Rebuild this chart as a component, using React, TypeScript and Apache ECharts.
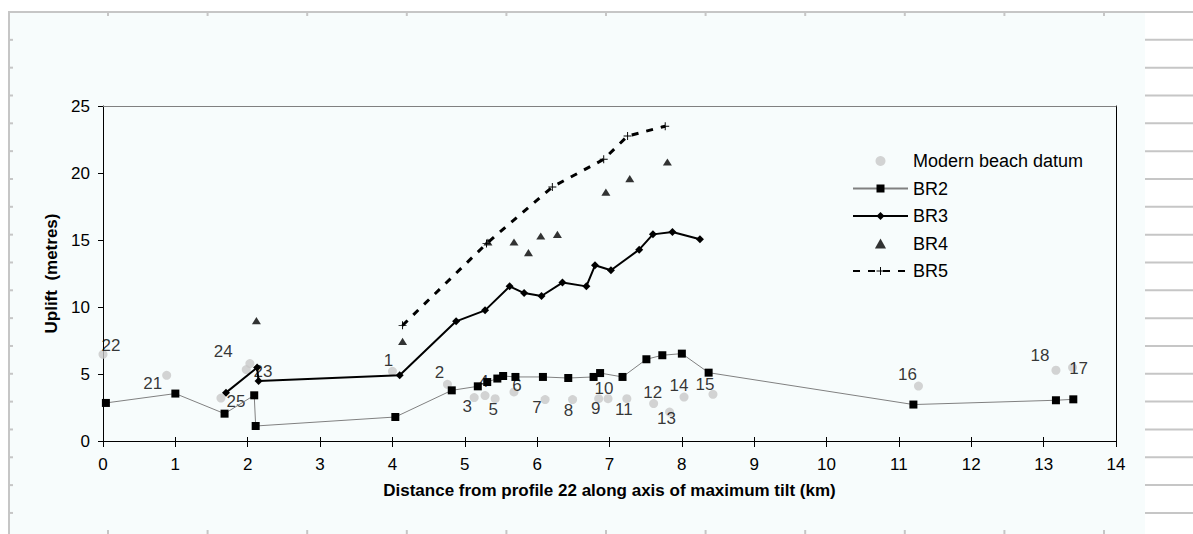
import React, { useEffect, useRef } from "react";
import * as echarts from "echarts";

// ---- Data ----
const beachX = [0.0, 0.88, 1.63, 1.98, 2.03, 4.0, 4.76, 5.13, 5.28, 5.42, 5.68, 6.11, 6.49, 6.85, 6.98, 7.24, 7.61, 7.83, 8.03, 8.43, 11.27, 13.17, 13.4];
const beachY = [6.47, 4.9, 3.2, 5.33, 5.78, 5.2, 4.23, 3.24, 3.39, 3.16, 3.66, 3.09, 3.09, 3.16, 3.16, 3.16, 2.79, 2.16, 3.28, 3.48, 4.1, 5.28, 5.48];
const beachProfile = ["22", "21", "25", "24", "23", "1", "2", "3", "4", "5", "6", "7", "8", "9", "10", "11", "12", "13", "14", "15", "16", "18", "17"];

const br2X = [0.04, 1.0, 1.68, 2.09, 2.11, 4.04, 4.82, 5.18, 5.31, 5.45, 5.53, 5.7, 6.08, 6.43, 6.78, 6.87, 7.18, 7.51, 7.73, 8.0, 8.37, 11.2, 13.17, 13.41];
const br2Y = [2.84, 3.54, 2.04, 3.41, 1.12, 1.79, 3.78, 4.08, 4.4, 4.66, 4.85, 4.78, 4.78, 4.7, 4.78, 5.07, 4.78, 6.1, 6.4, 6.52, 5.1, 2.72, 3.04, 3.11];

const br3X = [1.7, 2.13, 2.15, 4.1, 4.88, 5.28, 5.62, 5.82, 6.06, 6.35, 6.68, 6.8, 7.02, 7.41, 7.6, 7.87, 8.25];
const br3Y = [3.61, 5.48, 4.48, 4.9, 8.93, 9.75, 11.54, 11.04, 10.82, 11.82, 11.54, 13.11, 12.74, 14.28, 15.42, 15.6, 15.05];

const br4X = [2.12, 4.14, 5.32, 5.68, 5.88, 6.05, 6.28, 6.95, 7.28, 7.8];
const br4Y = [8.98, 7.44, 14.85, 14.85, 14.06, 15.3, 15.42, 18.58, 19.58, 20.82];

const br5X = [4.14, 5.3, 6.21, 6.92, 7.25, 7.77];
const br5Y = [8.63, 14.73, 18.96, 21.02, 22.76, 23.49];

const seriesNames = ["Modern beach datum", "BR2", "BR3", "BR4", "BR5"];
const xTitle = "Distance from profile 22 along axis of maximum tilt (km)";
const yTitle = "Uplift  (metres)";

// ---- Styles ----
const labelOffsets: number[][] = [
  [8, -9], [-14, 8], [15, 3], [-23, -18], [13, 8], [-4, -11], [-8, -12], [-7, 9], [-1, -14], [-2, 11],
  [3, -6], [-8, 8], [-4, 11], [-3, 10], [-4, -10], [-3, 11], [-1, -11], [-3, 6], [-5, -12], [-8, -10],
  [-11, -12], [-16, -15], [6, 1],
];
const FONT = "Liberation Sans, Arial, sans-serif";
const PLUS = "path://M4.4,0H5.6V4.4H10V5.6H5.6V10H4.4V5.6H0V4.4H4.4Z";
const TRI = "path://M5,0L10,9L0,9Z";
const GRID = { left: 103, right: 77, top: 106, bottom: 93 };

const pairs = (xs: number[], ys: number[]) => xs.map((x, i) => [x, ys[i]]);

function decorations() {
  const els: any[] = [];
  const stroke = { stroke: "#c6c6c6", lineWidth: 2 };
  els.push({ type: "line", silent: true, shape: { x1: 9, y1: 12, x2: 9, y2: 534 }, style: stroke });
  els.push({ type: "line", silent: true, shape: { x1: 8, y1: 12, x2: 1193, y2: 12 }, style: stroke });
  for (let k = 1; k <= 18; k++) {
    const y = 12 + k * 27.83;
    els.push({ type: "line", silent: true, shape: { x1: 9, y1: y, x2: 13, y2: y }, style: stroke });
    els.push({ type: "line", silent: true, shape: { x1: 1145, y1: y, x2: 1193, y2: y }, style: stroke });
  }
  for (let k = 0; k <= 10; k++) {
    const x = 108 + k * 99.6;
    els.push({ type: "line", silent: true, shape: { x1: x, y1: 12, x2: x, y2: 16 }, style: stroke });
    els.push({ type: "line", silent: true, shape: { x1: x, y1: 530, x2: x, y2: 534 }, style: stroke });
  }
  return els;
}

export default function App() {
  const ref = useRef<HTMLDivElement>(null);
  useEffect(() => {
    if (!ref.current) return;
    const chart = echarts.init(ref.current, undefined, { renderer: "svg" });
    const tickLabel = { fontSize: 17, color: "#000", fontFamily: FONT };
    chart.setOption({
      animation: false,
      textStyle: { fontFamily: FONT },
      graphic: { elements: decorations() },
      grid: [
        { ...GRID, show: false },
        { ...GRID, show: false },
      ],
      xAxis: [
        {
          type: "value", gridIndex: 0, position: "bottom", min: 0, max: 14, interval: 1,
          axisLine: { show: true, onZero: false, lineStyle: { color: "#000", width: 1 } },
          axisTick: { show: true, length: 6, lineStyle: { color: "#000" } },
          axisLabel: { ...tickLabel, margin: 15 },
          splitLine: { show: false },
          name: xTitle, nameLocation: "middle", nameGap: 41,
          nameTextStyle: { fontSize: 17, fontWeight: "bold", color: "#000", fontFamily: FONT },
        },
        {
          type: "value", gridIndex: 0, position: "top", min: 0, max: 14,
          axisLine: { show: true, onZero: false, lineStyle: { color: "#808080", width: 1 } },
          axisTick: { show: false }, axisLabel: { show: false }, splitLine: { show: false },
        },
        {
          type: "value", gridIndex: 1, position: "bottom", min: 0, max: 14, interval: 1,
          axisLine: { show: false }, axisTick: { show: true, inside: true, length: 4, lineStyle: { color: "#000" } },
          axisLabel: { show: false }, splitLine: { show: false },
        },
      ],
      yAxis: [
        {
          type: "value", gridIndex: 0, position: "left", min: 0, max: 25, interval: 5,
          axisLine: { show: true, onZero: false, lineStyle: { color: "#000", width: 1 } },
          axisTick: { show: true, length: 5, lineStyle: { color: "#000" } },
          axisLabel: { ...tickLabel, margin: 13 },
          splitLine: { show: false },
          name: yTitle, nameLocation: "middle", nameGap: 43,
          nameTextStyle: { fontSize: 17, fontWeight: "bold", color: "#000", fontFamily: FONT },
        },
        {
          type: "value", gridIndex: 0, position: "right", min: 0, max: 25,
          axisLine: { show: true, onZero: false, lineStyle: { color: "#000", width: 1 } },
          axisTick: { show: false }, axisLabel: { show: false }, splitLine: { show: false },
        },
        { type: "value", gridIndex: 1, min: 0, max: 25, show: false },
      ],
      legend: {
        data: seriesNames,
        orient: "vertical",
        left: 852,
        top: 152,
        padding: 0,
        itemWidth: 55,
        itemHeight: 10,
        itemGap: 9.5,
        symbolKeepAspect: true,
        textStyle: { fontSize: 18, color: "#000", fontFamily: FONT },
      },
      series: [
        {
          name: seriesNames[0], type: "scatter", xAxisIndex: 0, yAxisIndex: 0,
          symbol: "circle", symbolSize: 9,
          itemStyle: { color: "#c8c8c8" },
          label: {
            show: true, position: "inside", fontSize: 17, color: "#000", fontFamily: FONT,
            textBorderWidth: 0,
            formatter: (p: any) => beachProfile[p.dataIndex],
          },
          data: beachX.map((x, i) => ({ value: [x, beachY[i]], label: { offset: labelOffsets[i] } })),
          z: 2,
        },
        {
          name: seriesNames[1], type: "line", xAxisIndex: 0, yAxisIndex: 0,
          symbol: "rect", symbolSize: 8,
          itemStyle: { color: "#000" },
          lineStyle: { color: "#808080", width: 1 },
          data: pairs(br2X, br2Y), z: 3,
        },
        {
          name: seriesNames[2], type: "line", xAxisIndex: 0, yAxisIndex: 0,
          symbol: "diamond", symbolSize: 8,
          itemStyle: { color: "#000" },
          lineStyle: { color: "#000", width: 2 },
          data: pairs(br3X, br3Y), z: 3,
        },
        {
          name: seriesNames[3], type: "scatter", xAxisIndex: 0, yAxisIndex: 0,
          symbol: TRI, symbolSize: [9, 8], symbolKeepAspect: true,
          itemStyle: { color: "#000" },
          data: pairs(br4X, br4Y), z: 3,
        },
        {
          name: seriesNames[4], type: "line", xAxisIndex: 0, yAxisIndex: 0,
          symbol: PLUS, symbolSize: 8,
          itemStyle: { color: "#000" },
          lineStyle: { color: "#000", width: 3, type: [7, 8] },
          data: pairs(br5X, br5Y), z: 3,
        },
      ],
    });
    return () => chart.dispose();
  }, []);

  return (
    <div style={{ position: "absolute", left: 0, top: 0, width: 1193, height: 534, background: "#fff", overflow: "hidden" }}>
      <div style={{ position: "absolute", left: 10, top: 13, width: 1135, height: 521, background: "#f7fcfc" }} />
      <div ref={ref} style={{ position: "absolute", left: 0, top: 0, width: 1193, height: 534 }} />
    </div>
  );
}
